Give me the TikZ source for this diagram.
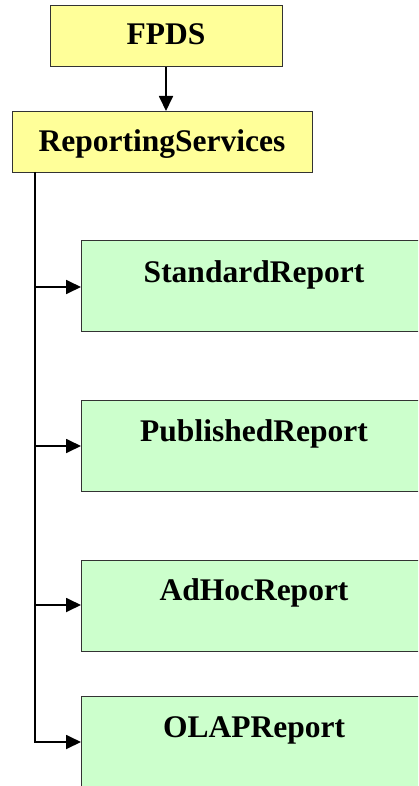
\documentclass[tikz,border=0pt]{standalone}
\usepackage{fontspec}
\setmainfont{Liberation Serif}
\usetikzlibrary{arrows.meta}
\definecolor{ybox}{HTML}{FFFF99}
\definecolor{gbox}{HTML}{CCFFCC}
\definecolor{edge}{HTML}{333333}
\tikzset{
  ybx/.style={draw=edge, line width=0.9pt, fill=ybox, rectangle, inner sep=0pt, anchor=north west},
  gbx/.style={draw=edge, line width=0.9pt, fill=gbox, rectangle, inner sep=0pt, anchor=north west, minimum width=346pt, minimum height=91pt},
  lbl/.style={inner sep=0pt, anchor=base, font=\fontsize{31.5}{36}\selectfont\bfseries},
  conn/.style={line width=1.8pt, -{Triangle[length=15pt,width=14pt]}},
  trunk/.style={line width=1.8pt}
}
\begin{document}
\begin{tikzpicture}[x=1pt,y=-1pt]
\useasboundingbox (0,0) rectangle (418,786);
\begin{scope}
\clip (0,0) rectangle (418,786);
\node[ybx, minimum width=232pt, minimum height=61pt] (fpds) at (50,5) {};
\node[lbl] (fpdst) at (166,45) {FPDS};
\node[ybx, minimum width=300pt, minimum height=61pt] (rs) at (12,111) {};
\node[lbl] (rst) at (162,152) {ReportingServices};

\node[gbx] (b1) at (81,240) {};
\node[lbl] (t1) at (254,282) {StandardReport};
\node[gbx] (b2) at (81,400) {};
\node[lbl] (t2) at (254,441) {PublishedReport};
\node[gbx] (b3) at (81,560) {};
\node[lbl] (t3) at (254,600) {AdHocReport};
\node[gbx, minimum height=120pt] (b4) at (81,696) {};
\node[lbl] (t4) at (254,737) {OLAPReport};

\draw[conn] (fpds.south -| 166,0) -- (rs.north -| 166,0);

\coordinate (top) at (35,172);
\coordinate (j1) at (35,287);
\coordinate (j2) at (35,446);
\coordinate (j3) at (35,605);
\coordinate (j4) at (35,742);
\draw[trunk] (top) -- (j4);
\draw[conn] (j1) -- (j1 -| b1.west);
\draw[conn] (j2) -- (j2 -| b2.west);
\draw[conn] (j3) -- (j3 -| b3.west);
\draw[conn] ([xshift=-0.9pt]j4) -- (j4 -| b4.west);
\end{scope}
\end{tikzpicture}
\end{document}
